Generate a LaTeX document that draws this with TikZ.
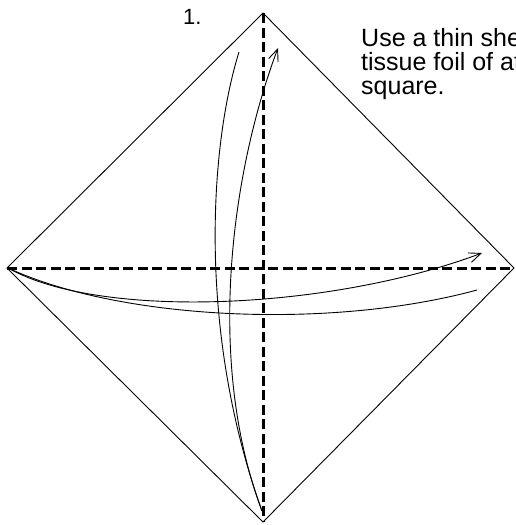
\documentclass[tikz,border=0pt]{standalone}
\usepackage{fontspec}
\setmainfont{Liberation Sans}
\usetikzlibrary{arrows.meta}
\tikzset{
  edge/.style={line width=0.9pt, line join=miter},
  fold/.style={line width=3pt, dash pattern=on 10pt off 4.5pt},
  curve/.style={line width=0.9pt},
  arr/.style={-{Straight Barb[length=12pt,width=10pt,line width=0.9pt]}},
}
\begin{document}
\begin{tikzpicture}[x=1pt,y=-1pt]
\useasboundingbox (0,0) rectangle (515,525);
\clip (0,0) rectangle (515,525);
\coordinate (T) at (263,13);
\coordinate (R) at (514,268);
\coordinate (B) at (263,522);
\coordinate (L) at (7,268);
% diamond
\draw[edge] (T) -- (R) -- (B) -- (L) -- cycle;
% dashed folds
\draw[fold] (T) -- (B);
\draw[fold] (L) -- (R);
% curve endpoints
\coordinate (a0) at (262,511);
\coordinate (a1) at (239,52);
\coordinate (b1) at (278,48);
\coordinate (c0) at (8,268);
\coordinate (c1) at (482,253);
\coordinate (d1) at (477,290);
% vertical curves
\draw[curve] (a0) .. controls (197,330) and (210,145) .. (a1);
\draw[curve,arr] (a0) .. controls (205,360) and (232,170) .. (b1);
% horizontal curves
\draw[curve,arr] (c0) .. controls (100,320) and (330,310) .. (c1);
\draw[curve] (c0) .. controls (120,320) and (330,330) .. (d1);
% texts
\node[anchor=base west, inner sep=0, font=\fontsize{22}{24}\selectfont] (num) at (183,24) {1.};
\node[anchor=base west, inner sep=0, align=left, font=\fontsize{25}{24}\selectfont] (desc) at (361,94) {Use a thin she\\tissue foil of at\\square.};
\end{tikzpicture}
\end{document}
